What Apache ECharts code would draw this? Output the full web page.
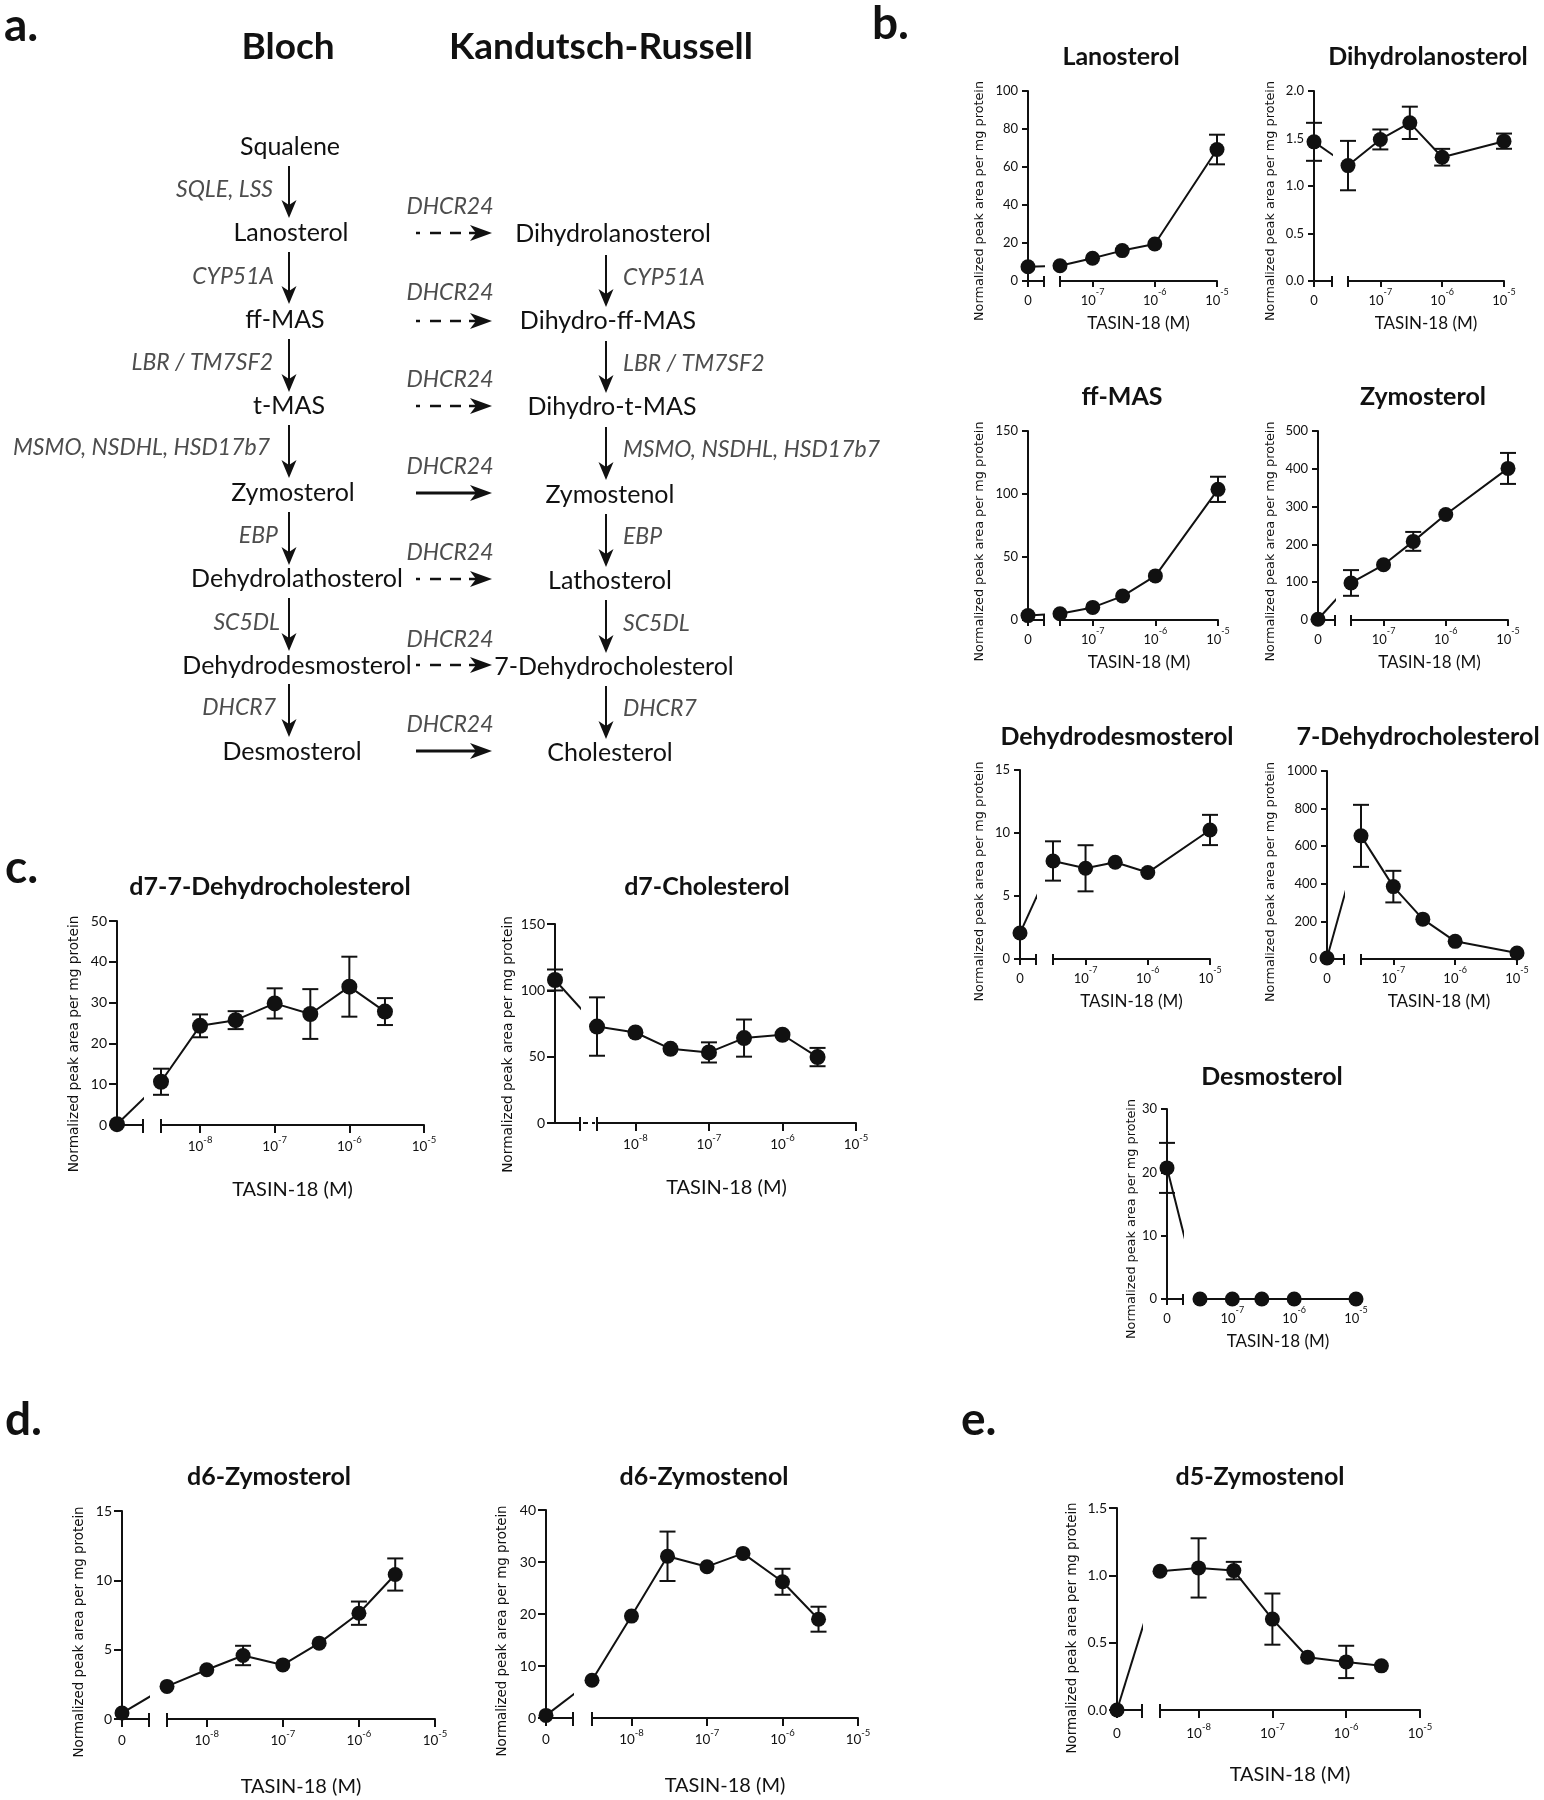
<!DOCTYPE html>
<html><head><meta charset="utf-8">
<script src="https://cdn.jsdelivr.net/npm/echarts@6/dist/echarts.min.js"></script>
<style>html,body{margin:0;padding:0;background:#fff}#c{width:1544px;height:1800px}</style>
</head><body><div id="c"></div>
<script>
// ---------------- DATA ----------------
const concB   = [0, 3e-8, 1e-7, 3e-7, 1e-6, 1e-5];
const concCDE = [0, 3e-9, 1e-8, 3e-8, 1e-7, 3e-7, 1e-6, 3e-6];
const decadesB   = [-7, -6, -5];
const decadesCDE = [-8, -7, -6, -5];

const lanosterolMean = [7.5, 8, 12, 16, 19.5, 69.2];
const lanosterolErr  = [0, 0, 0, 0, 0, 7.8];
const dihydrolanosterolMean = [1.465, 1.215, 1.49, 1.665, 1.303, 1.472];
const dihydrolanosterolErr  = [0.2, 0.26, 0.105, 0.17, 0.088, 0.08];
const ffMasMean = [3.5, 5, 10, 19, 35, 103.7];
const ffMasErr  = [0, 0, 0, 0, 0, 10];
const zymosterolMean = [2, 98, 146, 208, 279, 401];
const zymosterolErr  = [0, 34, 0, 25, 0, 41];
const dehydrodesmosterolMean = [2.06, 7.78, 7.2, 7.68, 6.86, 10.24];
const dehydrodesmosterolErr  = [0, 1.56, 1.83, 0, 0, 1.2];
const dhc7Mean = [5, 655, 385, 212, 94, 32];
const dhc7Err  = [0, 165, 84, 0, 0, 0];
const desmosterolMean = [20.7, 0, 0, 0, 0, 0];
const desmosterolErr  = [3.95, 0, 0, 0, 0, 0];

const d7DhcMean = [0.2, 10.6, 24.3, 25.7, 29.8, 27.2, 33.9, 27.8];
const d7DhcErr  = [0, 3.2, 2.8, 2.2, 3.7, 6.1, 7.35, 3.3];
const d7CholMean = [107.8, 72.7, 68.2, 55.9, 53.2, 64, 66.5, 49.7];
const d7CholErr  = [7.9, 22, 0, 0, 7.6, 14, 0, 6.9];
const d6ZymosterolMean = [0.43, 2.35, 3.55, 4.58, 3.9, 5.47, 7.63, 10.42];
const d6ZymosterolErr  = [0, 0, 0, 0.7, 0, 0, 0.84, 1.16];
const d6ZymostenolMean = [0.5, 7.25, 19.6, 31.1, 29.1, 31.65, 26.2, 19.0];
const d6ZymostenolErr  = [0, 0, 0, 4.75, 0, 0, 2.5, 2.4];
const d5ZymostenolMean = [0, 1.03, 1.055, 1.035, 0.675, 0.392, 0.357, 0.328];
const d5ZymostenolErr  = [0, 0, 0.22, 0.065, 0.19, 0, 0.12, 0];

const xAxisName = 'TASIN-18 (M)';
const yAxisName = 'Normalized peak area per mg protein';

// pathway text
const blochHeader = 'Bloch';
const krHeader = 'Kandutsch-Russell';
const blochNodes = ['Squalene','Lanosterol','ff-MAS','t-MAS','Zymosterol','Dehydrolathosterol','Dehydrodesmosterol','Desmosterol'];
const krNodes = ['Dihydrolanosterol','Dihydro-ff-MAS','Dihydro-t-MAS','Zymostenol','Lathosterol','7-Dehydrocholesterol','Cholesterol'];
const blochEnzymes = ['SQLE, LSS','CYP51A','LBR / TM7SF2','MSMO, NSDHL, HSD17b7','EBP','SC5DL','DHCR7'];
const krEnzymes = ['CYP51A','LBR / TM7SF2','MSMO, NSDHL, HSD17b7','EBP','SC5DL','DHCR7'];
const crossEnzyme = 'DHCR24';
const crossSolid = [false, false, false, true, false, false, true];
const panelLetters = ['a.', 'b.', 'c.', 'd.', 'e.'];

// ---------------- LAYOUT / STYLE ----------------
const SANS = 'Lato, "Open Sans", sans-serif';
const YFONT = '"DejaVu Sans", Verdana, sans-serif';
const INK = '#111';
const GENE = '#4d4d4d';

const LAYOUT = {
  lanosterol:        {yAxisX:1028, leftEnd:1044, rightStart:1060, rightEnd:1217, top:91,  zero:281, titleX:1121, titleY:57,  yNameGap:48, yNameShift:15},
  dihydrolanosterol: {yAxisX:1314, leftEnd:1332, rightStart:1348, rightEnd:1504, top:91,  zero:281, titleX:1428, titleY:57,  yNameGap:43, yNameShift:15},
  ffmas:             {yAxisX:1028, leftEnd:1044, rightStart:1060, rightEnd:1218, top:431, zero:620, titleX:1122, titleY:397, yNameGap:48, yNameShift:16},
  zymosterol:        {yAxisX:1318, leftEnd:1335, rightStart:1351, rightEnd:1508, top:431, zero:620, titleX:1423, titleY:397, yNameGap:47, yNameShift:16},
  dehydrodesmosterol:{yAxisX:1020, leftEnd:1036, rightStart:1053, rightEnd:1210, top:770, zero:959, titleX:1117, titleY:737, yNameGap:40, yNameShift:17},
  dhc7:              {yAxisX:1327, leftEnd:1344, rightStart:1361, rightEnd:1517, top:771, zero:959, titleX:1418, titleY:737, yNameGap:56, yNameShift:17},
  desmosterol:       {yAxisX:1167, leftEnd:1183, rightStart:1200, rightEnd:1356, top:1109,zero:1299,titleX:1272, titleY:1077,yNameGap:35, yNameShift:15},
  d7dhc:             {yAxisX:117,  leftEnd:143,  rightStart:161,  rightEnd:424,  top:921, zero:1125,titleX:270,  titleY:887, yNameGap:43, yNameShift:21},
  d7chol:            {yAxisX:555,  leftEnd:580,  rightStart:597,  rightEnd:856,  top:924, zero:1123,titleX:707,  titleY:887, yNameGap:47, yNameShift:21},
  d6zymosterol:      {yAxisX:122,  leftEnd:149,  rightStart:167,  rightEnd:435,  top:1511,zero:1719,titleX:269,  titleY:1477,yNameGap:42, yNameShift:17},
  d6zymostenol:      {yAxisX:546,  leftEnd:573,  rightStart:592,  rightEnd:858,  top:1510,zero:1718,titleX:704,  titleY:1477,yNameGap:43, yNameShift:17},
  d5zymostenol:      {yAxisX:1117, leftEnd:1142, rightStart:1160, rightEnd:1420, top:1508,zero:1710,titleX:1260, titleY:1477,yNameGap:44, yNameShift:19}
};
const STYLE = {
  b: {tick:6, cap:5, sym:15, capW:16, lw:2, yLab:13,  yLabMargin:10, xLab:13,   xSup:9,   xLabMargin:7,  xName:17, xNameGap:43, yName:12.8, title:25},
  c: {tick:8, cap:6, sym:16, capW:16, lw:2, yLab:14,  yLabMargin:10, xLab:13.5, xSup:9.5, xLabMargin:10, xName:20, xNameGap:65, yName:13.7, title:25},
  d: {tick:8, cap:6, sym:15, capW:16, lw:2, yLab:14,  yLabMargin:10, xLab:13.5, xSup:9.5, xLabMargin:10, xName:20, xNameGap:68, yName:13.4, title:25},
  e: {tick:8, cap:6, sym:15, capW:16, lw:2, yLab:14,  yLabMargin:10, xLab:13.5, xSup:9.5, xLabMargin:12, xName:20, xNameGap:65, yName:13.4, title:25}
};

const specs = [
  {key:'lanosterol', title:'Lanosterol', conc:concB, mean:lanosterolMean, err:lanosterolErr, yMax:100, yInterval:20, dec:0, decades:decadesB, zeroLabel:true, sty:'b'},
  {key:'dihydrolanosterol', title:'Dihydrolanosterol', conc:concB, mean:dihydrolanosterolMean, err:dihydrolanosterolErr, yMax:2, yInterval:0.5, dec:1, decades:decadesB, zeroLabel:true, sty:'b'},
  {key:'ffmas', title:'ff-MAS', conc:concB, mean:ffMasMean, err:ffMasErr, yMax:150, yInterval:50, dec:0, decades:decadesB, zeroLabel:true, sty:'b'},
  {key:'zymosterol', title:'Zymosterol', conc:concB, mean:zymosterolMean, err:zymosterolErr, yMax:500, yInterval:100, dec:0, decades:decadesB, zeroLabel:true, sty:'b'},
  {key:'dehydrodesmosterol', title:'Dehydrodesmosterol', conc:concB, mean:dehydrodesmosterolMean, err:dehydrodesmosterolErr, yMax:15, yInterval:5, dec:0, decades:decadesB, zeroLabel:true, sty:'b'},
  {key:'dhc7', title:'7-Dehydrocholesterol', conc:concB, mean:dhc7Mean, err:dhc7Err, yMax:1000, yInterval:200, dec:0, decades:decadesB, zeroLabel:true, sty:'b'},
  {key:'desmosterol', title:'Desmosterol', conc:concB, mean:desmosterolMean, err:desmosterolErr, yMax:30, yInterval:10, dec:0, decades:decadesB, zeroLabel:true, sty:'b'},
  {key:'d7dhc', title:'d7-7-Dehydrocholesterol', conc:concCDE, mean:d7DhcMean, err:d7DhcErr, yMax:50, yInterval:10, dec:0, decades:decadesCDE, zeroLabel:false, sty:'c'},
  {key:'d7chol', title:'d7-Cholesterol', conc:concCDE, mean:d7CholMean, err:d7CholErr, yMax:150, yInterval:50, dec:0, decades:decadesCDE, zeroLabel:false, sty:'c', dashedGap:true},
  {key:'d6zymosterol', title:'d6-Zymosterol', conc:concCDE, mean:d6ZymosterolMean, err:d6ZymosterolErr, yMax:15, yInterval:5, dec:0, decades:decadesCDE, zeroLabel:true, sty:'d'},
  {key:'d6zymostenol', title:'d6-Zymostenol', conc:concCDE, mean:d6ZymostenolMean, err:d6ZymostenolErr, yMax:40, yInterval:10, dec:0, decades:decadesCDE, zeroLabel:true, sty:'d'},
  {key:'d5zymostenol', title:'d5-Zymostenol', conc:concCDE, mean:d5ZymostenolMean, err:d5ZymostenolErr, yMax:1.5, yInterval:0.5, dec:1, decades:decadesCDE, zeroLabel:true, sty:'e'}
];

// pathway layout (panel a)
const PA = {
  headerY: 47, blochHeaderX: 288, krHeaderX: 601, headerFont: 'bold 37px ' + SANS,
  nodeFont: '25px ' + SANS, geneFont: 'italic 23px ' + SANS,
  blochNodeX: [290, 291, 285, 289, 293, 297, 297, 292],
  blochNodeY: [147, 233, 320, 406, 493, 579, 666, 752],
  krNodeX: [613, 608, 612, 610, 610, 614, 610],
  krNodeY: [234, 321, 407, 495, 581, 667, 753],
  leftArrowX: 289,
  leftArrowY: [[166,218],[252,304],[339,392],[425,478],[512,565],[598,651],[684,737]],
  rightArrowX: 606,
  rightArrowY: [[255,307],[341,393],[427,480],[514,567],[600,653],[686,739]],
  blochGeneRight: [273, 274, 273, 270, 278, 280, 276],
  blochGeneY: [190, 277, 363, 448, 536, 623, 708],
  krGeneLeft: 623,
  krGeneY: [278, 364, 450, 537, 624, 709],
  crossX1: 416, crossX2: 492,
  crossY: [233, 321, 406, 493, 579, 665, 751],
  dhcrX: 450, dhcrY: [207, 293, 380, 467, 553, 640, 725],
  letterPos: [[4, 26], [872, 24], [5, 868], [5, 1420], [961, 1420]], letterFont: 'bold 46px ' + SANS
};

// ---------------- BUILD ----------------
const grids = [], xAxes = [], yAxes = [], series = [], graphics = [];

function errSeries(xi, yi, data, sty) {
  return {type:'custom', xAxisIndex:xi, yAxisIndex:yi, data:data, clip:false, silent:true, z:3,
    renderItem: function (params, api) {
      const x = api.value(0), y = api.value(1), e = api.value(2);
      const t = api.coord([x, y + e]), b = api.coord([x, y - e]);
      const hw = sty.capW / 2, st = {stroke: INK, lineWidth: sty.lw};
      return {type:'group', children:[
        {type:'line', shape:{x1:t[0], y1:t[1], x2:b[0], y2:b[1]}, style:st},
        {type:'line', shape:{x1:t[0]-hw, y1:t[1], x2:t[0]+hw, y2:t[1]}, style:st},
        {type:'line', shape:{x1:b[0]-hw, y1:b[1], x2:b[0]+hw, y2:b[1]}, style:st}
      ]};
    }};
}

function addPlot(spec) {
  const lay = LAYOUT[spec.key], sty = STYLE[spec.sty];
  const gL = grids.length, gR = gL + 1;
  const h = lay.zero - lay.top;
  grids.push({left: lay.yAxisX, top: lay.top, width: lay.leftEnd - lay.yAxisX, height: h});
  grids.push({left: lay.rightStart, top: lay.top, width: lay.rightEnd - lay.rightStart, height: h});
  const firstLog = Math.log10(spec.conc[1]);
  const axisLS = {color: INK, width: sty.lw};
  const rich = {
    b: {fontSize: sty.xLab, fontFamily: SANS, color: INK, lineHeight: 19, verticalAlign: 'bottom'},
    s: {fontSize: sty.xSup, fontFamily: SANS, color: INK, lineHeight: 9, verticalAlign: 'top'}
  };
  const xL = xAxes.length;
  xAxes.push({gridIndex:gL, type:'value', min:0, max:1, position:'bottom',
    axisLine:{show:true, onZero:false, lineStyle:axisLS},
    axisTick:{show:true, length:sty.tick, customValues: spec.zeroLabel ? [0, 1] : [1], lineStyle:axisLS},
    axisLabel: spec.zeroLabel ? {show:true, customValues:[0], formatter: function(){ return '{b|0}'; }, rich: rich, margin: sty.xLabMargin} : {show:false},
    splitLine:{show:false}});
  xAxes.push({gridIndex:gL, type:'value', min:0, max:1, position:'bottom',
    axisLine:{show:false}, axisTick:{show:true, inside:true, length:sty.cap, customValues:[1], lineStyle:axisLS},
    axisLabel:{show:false}, splitLine:{show:false}});
  const xR = xAxes.length;
  xAxes.push({gridIndex:gR, type:'value', min:firstLog, max:-5, position:'bottom',
    axisLine:{show:true, onZero:false, lineStyle:axisLS},
    axisTick:{show:true, length:sty.tick, customValues:[firstLog].concat(spec.decades), lineStyle:axisLS},
    axisLabel:{show:true, customValues: spec.decades, formatter: function(v){ return '{b|10}{s|' + Math.round(v) + '}'; }, rich: rich, margin: sty.xLabMargin},
    splitLine:{show:false},
    name: xAxisName, nameLocation:'middle', nameGap: sty.xNameGap,
    nameTextStyle:{fontSize: sty.xName, fontFamily: SANS, color: INK, verticalAlign:'middle'}});
  xAxes.push({gridIndex:gR, type:'value', min:firstLog, max:-5, position:'bottom',
    axisLine:{show:false}, axisTick:{show:true, inside:true, length:sty.cap, customValues:[firstLog], lineStyle:axisLS},
    axisLabel:{show:false}, splitLine:{show:false}});
  const yL = yAxes.length;
  yAxes.push({gridIndex:gL, type:'value', min:0, max:spec.yMax, interval:spec.yInterval, position:'left',
    axisLine:{show:true, onZero:false, lineStyle:axisLS},
    axisTick:{show:true, length:sty.tick, lineStyle:axisLS},
    axisLabel:{show:true, fontSize:sty.yLab, fontFamily:SANS, color:INK, margin:sty.yLabMargin,
      formatter: function(v){ return v.toFixed(spec.dec); }},
    splitLine:{show:false},
    name: yAxisName, nameLocation:'middle', nameRotate:90, nameGap: lay.yNameGap,
    nameTextStyle:{fontSize:sty.yName, fontFamily:YFONT, color:INK, verticalAlign:'middle', padding:[0, 2*lay.yNameShift, 0, 0]}});
  const yR = yAxes.length;
  yAxes.push({gridIndex:gR, type:'value', min:0, max:spec.yMax, interval:spec.yInterval, show:false});

  // connecting line from the zero-dose point, clipped at the axis break
  const xFirstL = (lay.rightStart - lay.yAxisX) / (lay.leftEnd - lay.yAxisX);
  series.push({type:'line', xAxisIndex:xL, yAxisIndex:yL, data:[[0, spec.mean[0]], [xFirstL, spec.mean[1]]],
    symbol:'none', clip:true, silent:true, z:3, lineStyle:{color:INK, width:sty.lw}});
  if (spec.err[0] > 0) series.push(errSeries(xL, yL, [[0, spec.mean[0], spec.err[0]]], sty));
  const errR = [], pts = [];
  for (let i = 1; i < spec.conc.length; i++) {
    const lx = Math.log10(spec.conc[i]);
    pts.push([lx, spec.mean[i]]);
    if (spec.err[i] > 0) errR.push([lx, spec.mean[i], spec.err[i]]);
  }
  series.push(errSeries(xR, yR, errR, sty));
  series.push({type:'scatter', xAxisIndex:xL, yAxisIndex:yL, data:[[0, spec.mean[0]]], symbol:'circle',
    symbolSize:sty.sym, itemStyle:{color:INK, opacity:1}, clip:false, silent:true, z:4});
  series.push({type:'line', xAxisIndex:xR, yAxisIndex:yR, data:pts, symbol:'circle', symbolSize:sty.sym,
    showAllSymbol:true, itemStyle:{color:INK, borderWidth:0, opacity:1}, lineStyle:{color:INK, width:sty.lw}, clip:false, silent:true, z:4});

  // title
  graphics.push({type:'text', x: lay.titleX, y: lay.titleY, silent:true,
    style:{text: spec.title, font: 'bold ' + sty.title + 'px ' + SANS, fill: INK, align:'center', verticalAlign:'middle'}});
  if (spec.dashedGap) {
    graphics.push({type:'line', silent:true, shape:{x1: lay.leftEnd + 3, y1: lay.zero, x2: lay.rightStart - 2, y2: lay.zero},
      style:{stroke: INK, lineWidth: sty.lw, lineDash:[5, 4]}});
  }
}
specs.forEach(addPlot);

// ---------------- PANEL A (pathway) ----------------
function txt(t, x, y, font, fill, align) {
  graphics.push({type:'text', x:x, y:y, silent:true, style:{text:t, font:font, fill:fill, align:align || 'center', verticalAlign:'middle'}});
}
function seg(x1, y1, x2, y2, w) {
  graphics.push({type:'line', silent:true, shape:{x1:x1, y1:y1, x2:x2, y2:y2}, style:{stroke:INK, lineWidth:w}});
}
function vArrow(x, y1, y2) {
  const hl = 18, hw = 7.5, notch = 5;
  seg(x, y1, x, y2 - hl + notch + 1, 2);
  graphics.push({type:'polygon', silent:true, shape:{points:[[x, y2], [x - hw, y2 - hl], [x, y2 - hl + notch], [x + hw, y2 - hl]]}, style:{fill:INK}});
}
function hArrow(x1, x2, y, solid) {
  const hl = 22, hw = 8, notch = 6;
  if (solid) {
    seg(x1, y, x2 - hl + notch + 1, y, 3);
  } else {
    [[0, 4], [14, 25], [34, 45], [53, 62]].forEach(function (d) { seg(x1 + d[0], y, x1 + d[1], y, 2.5); });
  }
  graphics.push({type:'polygon', silent:true, shape:{points:[[x2, y], [x2 - hl, y - hw], [x2 - hl + notch, y], [x2 - hl, y + hw]]}, style:{fill:INK}});
}

txt(blochHeader, PA.blochHeaderX, PA.headerY, PA.headerFont, INK);
txt(krHeader, PA.krHeaderX, PA.headerY, PA.headerFont, INK);
blochNodes.forEach(function (n, i) { txt(n, PA.blochNodeX[i], PA.blochNodeY[i], PA.nodeFont, INK); });
krNodes.forEach(function (n, i) { txt(n, PA.krNodeX[i], PA.krNodeY[i], PA.nodeFont, INK); });
blochEnzymes.forEach(function (g, i) { txt(g, PA.blochGeneRight[i], PA.blochGeneY[i], PA.geneFont, GENE, 'right'); });
krEnzymes.forEach(function (g, i) { txt(g, PA.krGeneLeft, PA.krGeneY[i], PA.geneFont, GENE, 'left'); });
PA.leftArrowY.forEach(function (a) { vArrow(PA.leftArrowX, a[0], a[1]); });
PA.rightArrowY.forEach(function (a) { vArrow(PA.rightArrowX, a[0], a[1]); });
crossSolid.forEach(function (s, i) {
  hArrow(PA.crossX1, PA.crossX2, PA.crossY[i], s);
  txt(crossEnzyme, PA.dhcrX, PA.dhcrY[i], PA.geneFont, GENE);
});
panelLetters.forEach(function (l, i) { txt(l, PA.letterPos[i][0], PA.letterPos[i][1], PA.letterFont, INK, 'left'); });

// ---------------- RENDER ----------------
const chart = echarts.init(document.getElementById('c'), null, {renderer:'canvas', width:1544, height:1800});
chart.setOption({
  animation:false, backgroundColor:'#ffffff',
  grid: grids, xAxis: xAxes, yAxis: yAxes, series: series,
  graphic: {elements: graphics}
});
</script></body></html>
